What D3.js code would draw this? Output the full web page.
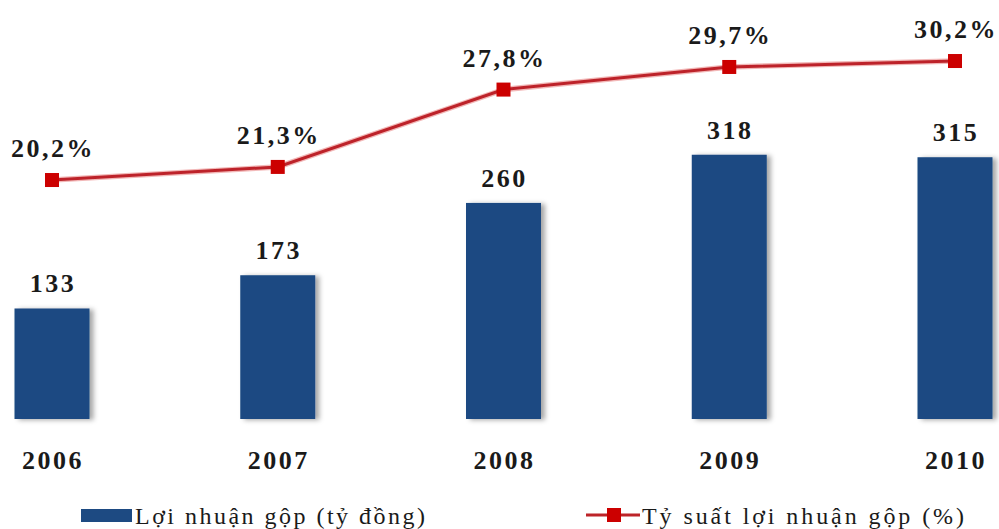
<!DOCTYPE html>
<html>
<head>
<meta charset="utf-8">
<script src="https://cdn.jsdelivr.net/npm/d3@7/dist/d3.min.js"></script>
<style>
  html, body { margin: 0; padding: 0; background: #fff; }
  svg { display: block; }
</style>
</head>
<body>
<svg id="chart" width="999" height="529"></svg>
<script>
// Gross profit (billion VND) and gross margin (%) by year
const years = ["2006", "2007", "2008", "2009", "2010"];
const grossProfit = [133, 173, 260, 318, 315];
const grossMargin = [20.2, 21.3, 27.8, 29.7, 30.2];
const marginLabels = ["20,2%", "21,3%", "27,8%", "29,7%", "30,2%"];
const legendLabels = ["Lợi nhuận gộp (tỷ đồng)", "Tỷ suất lợi nhuận gộp (%)"];

const svg = d3.select("#chart");

const barColor = "#1d4a82";
const lineColor = "#bd2429";
const markerColor = "#cc0000";
const serif = '"Liberation Serif", "Times New Roman", serif';

const x = d3.scalePoint().domain(years).range([52, 955]);
const yBar = d3.scaleLinear().domain([0, 400]).range([419, 86.6]);
const yLine = d3.scaleLinear().domain([0, 35]).range([420.4, 3.9]);
const barW = 75;

const defs = svg.append("defs");
// soft shadow to the right of the bars
const f = defs.append("filter").attr("id", "shadow")
  .attr("x", "-20%").attr("y", "-10%").attr("width", "150%").attr("height", "130%");
f.append("feDropShadow").attr("dx", 4).attr("dy", 1).attr("stdDeviation", 2.5)
  .attr("flood-color", "#000").attr("flood-opacity", 0.35);

const lineGlow = defs.append("filter").attr("id", "glow")
  .attr("x", "-5%").attr("y", "-20%").attr("width", "110%").attr("height", "140%");
lineGlow.append("feGaussianBlur").attr("stdDeviation", 0.5);

function boldLabel(sel) {
  sel.attr("text-anchor", "middle")
    .style("font-family", serif)
    .style("font-weight", "bold")
    .style("font-size", "26px")
    .style("letter-spacing", "2.5px")
    .attr("fill", "#1a1a1a");
}

// bars
svg.append("g").selectAll("rect")
  .data(grossProfit)
  .join("rect")
  .attr("x", (d, i) => x(years[i]) - barW / 2)
  .attr("y", d => yBar(d))
  .attr("width", barW)
  .attr("height", d => yBar(0) - yBar(d))
  .attr("fill", barColor)
  .attr("filter", "url(#shadow)");

// bar value labels
svg.append("g").selectAll("text")
  .data(grossProfit)
  .join("text")
  .attr("x", (d, i) => x(years[i]) + 1)
  .attr("y", d => yBar(d) - 16)
  .call(boldLabel)
  .text(d => d);

// margin line
const pts = grossMargin.map((v, i) => [x(years[i]), yLine(v)]);
const line = d3.line();
svg.append("path")
  .attr("d", line(pts))
  .attr("fill", "none")
  .attr("stroke", "#f2b8b8")
  .attr("stroke-width", 5.5);
svg.append("path")
  .attr("d", line(pts))
  .attr("fill", "none")
  .attr("stroke", lineColor)
  .attr("stroke-width", 3)
  .attr("filter", "url(#glow)");

// markers
svg.append("g").selectAll("rect")
  .data(pts)
  .join("rect")
  .attr("x", d => d[0] - 7)
  .attr("y", d => d[1] - 7)
  .attr("width", 14)
  .attr("height", 14)
  .attr("fill", markerColor);

// margin labels
svg.append("g").selectAll("text")
  .data(grossMargin)
  .join("text")
  .attr("x", (d, i) => x(years[i]) + 1)
  .attr("y", d => yLine(d) - 23)
  .call(boldLabel)
  .text((d, i) => marginLabels[i]);

// category axis labels
svg.append("g").selectAll("text")
  .data(years)
  .join("text")
  .attr("x", d => x(d) + 1)
  .attr("y", 469)
  .call(boldLabel)
  .text(d => d);

// legend
const lg = svg.append("g");
lg.append("rect").attr("x", 81).attr("y", 509).attr("width", 51).attr("height", 13)
  .attr("fill", barColor);
lg.append("text").attr("x", 135).attr("y", 524)
  .style("font-family", serif).style("font-size", "24px")
  .attr("textLength", 290).attr("lengthAdjust", "spacing")
  .attr("fill", "#1a1a1a")
  .text(legendLabels[0]);

lg.append("line").attr("x1", 586).attr("x2", 640).attr("y1", 515).attr("y2", 515)
  .attr("stroke", lineColor).attr("stroke-width", 3);
lg.append("rect").attr("x", 607).attr("y", 508).attr("width", 14).attr("height", 14)
  .attr("fill", markerColor);
lg.append("text").attr("x", 642).attr("y", 524)
  .style("font-family", serif).style("font-size", "24px")
  .attr("textLength", 322).attr("lengthAdjust", "spacing")
  .attr("fill", "#1a1a1a")
  .text(legendLabels[1]);
</script>
</body>
</html>
